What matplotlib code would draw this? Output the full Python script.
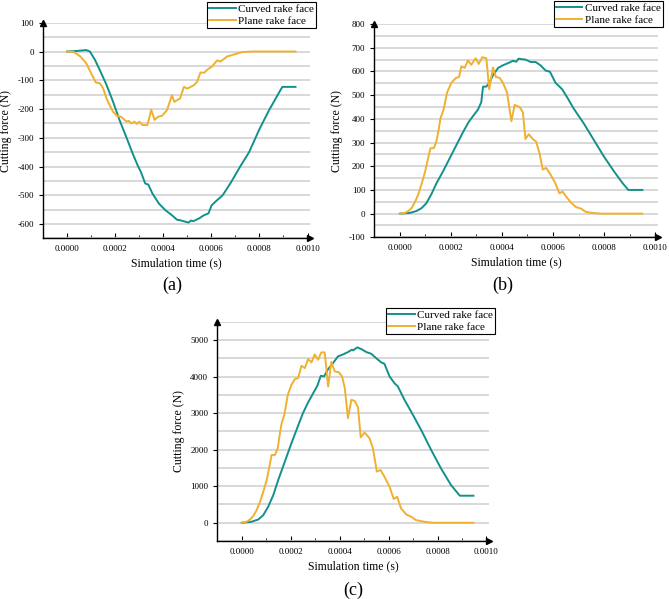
import matplotlib
matplotlib.use("Agg")
import matplotlib.pyplot as plt
import numpy as np
from matplotlib.ticker import MultipleLocator, FormatStrFormatter

plt.rcParams['font.family'] = ['Liberation Serif', 'DejaVu Serif']
plt.rcParams['axes.unicode_minus'] = False

TEAL = '#12918c'
ORANGE = '#f0b030'

# time values are given in units of 1e-4 s
# (a)
t_a_curved = [0, 0.4, 0.8, 0.95, 1.16, 1.36, 1.64, 1.91, 2.18, 2.46, 2.73, 2.93, 3.07, 3.25, 3.38,
              3.55, 3.82, 4.09, 4.37, 4.57, 4.71, 5.05, 5.15, 5.25, 5.33, 5.5, 5.68, 5.88, 6.01,
              6.2, 6.47, 6.81, 7.2, 7.57, 8.0, 8.4, 8.95, 9.5]
f_a_curved = [0, 2, 5, 0, -29, -64, -116, -174, -238, -297, -355, -395, -419, -459, -463,
              -494, -529, -552, -570, -585, -587, -595, -588, -590, -587, -580, -570, -563, -535,
              -520, -500, -456, -400, -350, -270, -204, -123, -123]
t_a_plane = [0, 0.27, 0.55, 0.8, 1.0, 1.2, 1.36, 1.5, 1.64, 1.77, 1.91, 2.07, 2.25, 2.39, 2.48,
             2.56, 2.66, 2.8, 2.9, 3.0, 3.14, 3.34, 3.5, 3.64, 3.78, 3.96, 4.16, 4.36, 4.46, 4.7,
             4.86, 5.0, 5.28, 5.4, 5.55, 5.7, 5.85, 6.03, 6.24, 6.38, 6.66, 7.0, 7.27, 7.7, 9.5]
f_a_plane = [0, -1, -17, -41, -76, -108, -110, -128, -163, -186, -209, -224, -227, -238, -244,
             -241, -250, -244, -252, -244, -256, -256, -203, -238, -227, -223, -203, -152, -175, -163,
             -123, -129, -117, -106, -73, -74, -62, -52, -31, -35, -17, -9, -2, 0, 0]

# (b)
t_b_curved = [0, 0.39, 0.65, 0.85, 1.04, 1.24, 1.43, 1.7, 1.96, 2.22, 2.48, 2.7, 2.87, 3.06, 3.19,
              3.26, 3.39, 3.5, 3.65, 3.85, 4.04, 4.3, 4.43, 4.56, 4.65, 4.76, 4.93, 5.12, 5.32,
              5.51, 5.71, 5.88, 6.1, 6.36, 6.56, 6.82, 7.21, 7.6, 7.99, 8.38, 8.71, 8.95, 9.5]
f_b_curved = [0, 3, 11, 23, 44, 83, 127, 180, 235, 290, 345, 387, 412, 439, 470,
              536, 536, 552, 584, 615, 626, 638, 645, 641, 654, 652, 650, 640, 640,
              626, 604, 599, 552, 525, 490, 442, 380, 311, 242, 180, 131, 100, 100]
t_b_plane = [0, 0.2, 0.33, 0.46, 0.59, 0.72, 0.85, 0.98, 1.11, 1.2, 1.33, 1.43, 1.53, 1.59, 1.72,
             1.85, 2.02, 2.19, 2.32, 2.41, 2.54, 2.67, 2.8, 2.97, 3.09, 3.23, 3.39, 3.5, 3.65,
             3.76, 3.91, 4.04, 4.2, 4.37, 4.5, 4.7, 4.82, 4.92, 5.05, 5.21, 5.34, 5.47, 5.6,
             5.73, 5.9, 6.08, 6.25, 6.38, 6.51, 6.71, 6.9, 7.1, 7.29, 7.55, 7.87, 9.5]
f_b_plane = [0, 3, 11, 23, 48, 80, 124, 173, 235, 276, 276, 304, 359, 401, 442,
             511, 552, 572, 577, 622, 615, 646, 628, 656, 632, 660, 656, 525, 617,
             577, 573, 552, 511, 390, 459, 449, 428, 315, 335, 315, 304, 256, 186,
             193, 166, 131, 86, 93, 73, 46, 28, 21, 7, 3, 0, 0]

# (c)
t_c_curved = [0, 0.4, 0.68, 0.88, 1.08, 1.29, 1.49, 1.76, 2.03, 2.3, 2.5, 2.71, 2.92, 3.09, 3.23,
              3.36, 3.53, 3.73, 3.93, 4.14, 4.34, 4.5, 4.55, 4.72, 4.89, 5.09, 5.29, 5.49, 5.7,
              5.83, 6.04, 6.24, 6.38, 6.65, 6.92, 7.33, 7.74, 8.14, 8.55, 8.91, 9.47]
f_c_curved = [0, 27, 91, 210, 439, 759, 1170, 1673, 2176, 2651, 2998, 3291, 3547, 3748, 4022,
              4004, 4205, 4369, 4552, 4607, 4671, 4735, 4717, 4799, 4753, 4671, 4625, 4506, 4388,
              4351, 4004, 3821, 3729, 3364, 3044, 2541, 1993, 1490, 1033, 740, 740]
t_c_plane = [0, 0.2, 0.34, 0.47, 0.61, 0.75, 0.88, 1.02, 1.13, 1.22, 1.36, 1.47, 1.56, 1.63, 1.74,
             1.88, 2.03, 2.17, 2.3, 2.44, 2.58, 2.71, 2.85, 2.98, 3.12, 3.25, 3.39, 3.53, 3.66,
             3.8, 3.96, 4.1, 4.21, 4.34, 4.48, 4.61, 4.75, 4.86, 5.02, 5.22, 5.36, 5.52, 5.67,
             5.83, 6.04, 6.21, 6.35, 6.51, 6.72, 6.92, 7.12, 7.46, 7.8, 9.47]
f_c_plane = [0, 27, 91, 183, 347, 576, 850, 1170, 1536, 1856, 1856, 2039, 2450, 2724, 2953,
             3501, 3775, 3931, 3958, 4296, 4232, 4479, 4388, 4607, 4461, 4662, 4662, 3729, 4397,
             4141, 4122, 4004, 3684, 2862, 3364, 3336, 3163, 2340, 2468, 2313, 2039, 1399, 1444,
             1261, 987, 649, 713, 393, 229, 165, 73, 27, 0, 0]

labels = ['Curved rake face', 'Plane rake face']


def draw_panel(ax, tc, fc, tp, fp, ylim, ymajor, yminor, leg_anchor):
    ax.plot(np.array(tc) * 1e-4, fc, color=TEAL, lw=1.4, label=labels[0])
    ax.plot(np.array(tp) * 1e-4, fp, color=ORANGE, lw=1.4, label=labels[1])
    ax.set_xlim(-0.0001, 0.00101)
    ax.set_ylim(*ylim)
    ax.xaxis.set_major_locator(MultipleLocator(0.0002))
    ax.xaxis.set_minor_locator(MultipleLocator(0.0001))
    ax.xaxis.set_major_formatter(FormatStrFormatter('%.4f'))
    ax.yaxis.set_major_locator(MultipleLocator(ymajor))
    ax.yaxis.set_minor_locator(MultipleLocator(yminor))
    ax.tick_params(axis='x', which='major', direction='in', length=3.5, labelsize=6.5, pad=5)
    ax.tick_params(axis='x', which='minor', direction='in', length=2.5)
    ax.tick_params(axis='y', which='major', direction='out', length=3, labelsize=6.5)
    ax.tick_params(axis='y', which='minor', length=0)
    ax.yaxis.grid(True, which='both', color='#d6d6d6', lw=1.3)
    ax.set_axisbelow(True)
    for s in ['top', 'right']:
        ax.spines[s].set_visible(False)
    for s in ['left', 'bottom']:
        ax.spines[s].set_linewidth(1.0)
    # arrow heads at the ends of the axes
    ax.plot(0, 1, '^k', ms=4, transform=ax.transAxes, clip_on=False)
    ax.plot(1, 0, '>k', ms=4, transform=ax.transAxes, clip_on=False)
    ax.set_xlabel('Simulation time (s)', fontsize=8.5, labelpad=3)
    ax.set_ylabel('Cutting force (N)', fontsize=8.5, labelpad=4)
    leg = ax.legend(loc='upper right', bbox_to_anchor=leg_anchor, fontsize=8, frameon=True,
                    fancybox=False, edgecolor='black', framealpha=1, borderpad=0.2,
                    handlelength=2.4, handletextpad=0.2, labelspacing=0.2, borderaxespad=0)
    leg.get_frame().set_linewidth(0.8)


fig = plt.figure(figsize=(6.69, 5.99), dpi=100)

ax_a = fig.add_axes([0.0643, 0.602, 0.399, 0.360])
draw_panel(ax_a, t_a_curved, f_a_curved, t_a_plane, f_a_plane,
           (-650, 100), 100, 50, (1.022, 1.096))

ax_b = fig.add_axes([0.5595, 0.6038, 0.4235, 0.356])
draw_panel(ax_b, t_b_curved, f_b_curved, t_b_plane, f_b_plane,
           (-100, 800), 100, 50, (1.018, 1.11))

ax_c = fig.add_axes([0.3248, 0.0968, 0.406, 0.366])
draw_panel(ax_c, t_c_curved, f_c_curved, t_c_plane, f_c_plane,
           (-500, 5500), 1000, 500, (1.022, 1.064))

fig.text(172.7 / 669, 1 - 285 / 599, '(a)', fontsize=13, ha='center', va='center')
fig.text(502.7 / 669, 1 - 285 / 599, '(b)', fontsize=13, ha='center', va='center')
fig.text(353.3 / 669, 1 - 590 / 599, '(c)', fontsize=13, ha='center', va='center')

fig.savefig('out.png', dpi=100)
